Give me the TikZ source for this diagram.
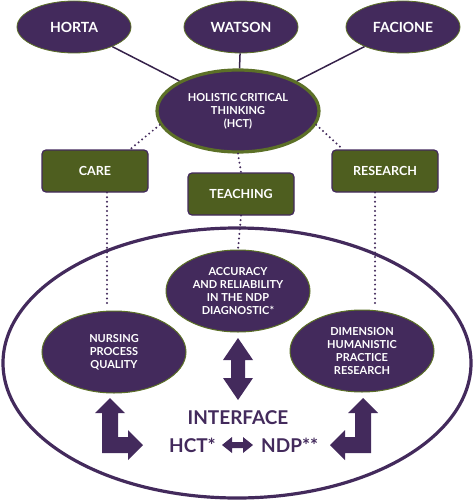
\documentclass[tikz,border=0pt]{standalone}
\usepackage{fontspec}
\setmainfont{Lato}
\usetikzlibrary{shapes.geometric}
\definecolor{pur}{HTML}{432A5C}
\definecolor{grn}{HTML}{4E5E1F}
\definecolor{grnb}{HTML}{5C7027}
\tikzset{
  x=1pt,y=-1pt,
  topell/.style={ellipse,fill=pur,draw=grnb,line width=0.8pt,text=white,inner sep=0pt,
    font=\bfseries\fontsize{14}{16}\selectfont,minimum width=114pt,minimum height=52pt},
  midell/.style={ellipse,fill=pur,draw=grnb,line width=1pt,text=white,inner sep=0pt,align=center,
    font=\bfseries\fontsize{11}{13}\selectfont,minimum width=144pt,minimum height=82pt},
  gbox/.style={rectangle,rounded corners=4pt,fill=grn,draw=pur,line width=1.2pt,text=white,
    font=\bfseries\fontsize{12.5}{14}\selectfont,minimum width=106pt,minimum height=42pt,inner sep=0pt},
  solidcon/.style={draw=pur!80!black,line width=1.5pt},
  dotcon/.style={draw=pur,line width=2.2pt,line cap=round,dash pattern=on 0pt off 4.6pt},
  blockarrow/.style={fill=pur,draw=none},
  bigtext/.style={text=pur,font=\bfseries\fontsize{19}{22}\selectfont,inner sep=0pt}
}
\begin{document}
\begin{tikzpicture}
\useasboundingbox (0,0) rectangle (474,503);
% big ellipse
\draw[pur,line width=3.2pt] (237,363) ellipse [x radius=234pt, y radius=135pt];
% top ellipses
\node[topell] (horta) at (74,27) {HORTA};
\node[topell] (watson) at (241,27) {WATSON};
\node[topell] (facione) at (403,27) {FACIONE};
\node[ellipse,fill=pur,draw=grnb,line width=3.2pt,text=white,inner sep=0pt,align=center,
  font=\bfseries\fontsize{11}{13}\selectfont,minimum width=162pt,minimum height=82pt]
  (hct) at (238,111) {HOLISTIC CRITICAL\\THINKING\\(HCT)};
% boxes
\node[gbox] (care) at (95,171) {CARE};
\node[gbox] (teaching) at (241,194) {TEACHING};
\node[gbox] (research) at (385,171) {RESEARCH};
% inner ellipses
\node[midell] (accuracy) at (238,291) {ACCURACY\\AND RELIABILITY\\IN THE NDP\\DIAGNOSTIC*};
\node[midell] (nursing) at (114,352) {NURSING\\PROCESS\\QUALITY};
\node[midell] (dimension) at (362,351) {DIMENSION\\HUMANISTIC\\PRACTICE\\RESEARCH};
% solid connectors
\draw[solidcon] (horta) -- (hct);
\draw[solidcon] (watson) -- (hct);
\draw[solidcon] (facione) -- (hct);
% dotted connectors
\draw[dotcon] (hct.190) -- ([xshift=35pt]care.north);
\draw[dotcon] (hct.350) -- ([xshift=-42pt]research.north);
\draw[dotcon] (hct.south) -- (teaching.north);
\draw[dotcon] (teaching.south) -- (accuracy.north);
\draw[dotcon] ([xshift=12pt]care.south) -- ([xshift=12pt,yshift=5pt]care.south |- nursing.north);
\draw[dotcon] ([xshift=-10pt]research.south) -- ([xshift=-10pt,yshift=5pt]research.south |- dimension.north);
% texts
\node[bigtext] (interface) at (238,418) {INTERFACE};
\node[bigtext,anchor=east] (hcts) at (216,445) {HCT*};
\node[bigtext,anchor=west] (ndps) at (261,445) {NDP**};
% block arrows
\fill[blockarrow] (238,338) -- (253,360) -- (245,360) -- (245,378) -- (253,378) -- (238,400)
  -- (223,378) -- (231,378) -- (231,360) -- (223,360) -- cycle;
\fill[blockarrow] (222,445) -- (232,437) -- (232,442) -- (243,442) -- (243,437) -- (253,445)
  -- (243,453) -- (243,448) -- (232,448) -- (232,453) -- cycle;
\fill[blockarrow] (110,398) -- (125,413) -- (118,413) -- (118,437) -- (128,437) -- (128,430)
  -- (143,445) -- (128,460) -- (128,453) -- (102,453) -- (102,413) -- (95,413) -- cycle;
\fill[blockarrow] (363,398) -- (348,413) -- (355,413) -- (355,437) -- (345,437) -- (345,430)
  -- (330,445) -- (345,460) -- (345,453) -- (371,453) -- (371,413) -- (378,413) -- cycle;
\end{tikzpicture}
\end{document}
